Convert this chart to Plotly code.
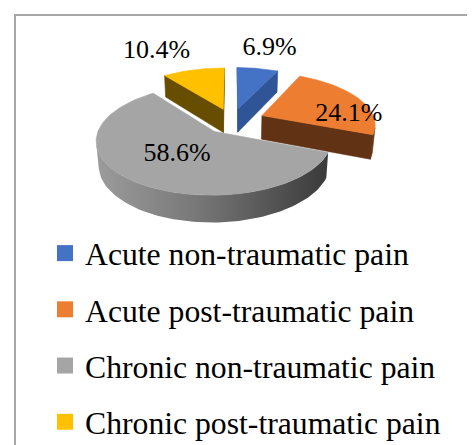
import numpy as np
import plotly.graph_objects as go

# ---------------- data ----------------
categories = ["Acute non-traumatic pain", "Acute post-traumatic pain",
              "Chronic non-traumatic pain", "Chronic post-traumatic pain"]
values = [6.9, 24.1, 58.6, 10.4]
value_labels = ["6.9%", "24.1%", "58.6%", "10.4%"]

# ---------------- style ----------------
top_colors = ["#4472C4", "#ED7D31", "#A5A5A5", "#FFC000"]
face_colors = ["#2F5597", "#613214", "#7A7A7A", "#664D00"]
explode = [0.25, 0.29, 0.25, 0.25]
label_r = [1.48, 0.95, 0.45, 1.48]
label_dx = [4, -5, -3, -25]
label_dy = [-4, 15, 3, -3]
SERIF = "Liberation Serif, Times New Roman, DejaVu Serif, serif"

W, H_PX = 475, 445
CX, CY, S = 224.0, 113.0, 113.0        # screen position / scale of pie
SA = 0.45                              # sin(elevation)
CA = np.sqrt(1 - SA ** 2)
DIST = 6.0                             # perspective distance
THICK = 0.24                           # pie thickness
CAMZ = -DIST * CA


def proj(X, Z, h):
    X = np.asarray(X, float)
    Z = np.asarray(Z, float)
    yv = h * CA + Z * SA
    zv = Z * CA - h * SA
    w = 1 + zv / DIST
    return CX + S * X / w, CY - S * yv / w


fig = go.Figure()

total = sum(values)
bounds = np.concatenate([[0], np.cumsum(values) / total * 360.0])
slices = []
for i in range(len(values)):
    t0, t1 = bounds[i], bounds[i + 1]
    mid = np.radians((t0 + t1) / 2)
    ex, ez = explode[i] * np.sin(mid), explode[i] * np.cos(mid)
    slices.append((i, t0, t1, mid, ex, ez))

# draw back to front
slices.sort(key=lambda s: -(s[5] * CA))


def poly(xs, ys, color, grad=None):
    kw = dict(x=list(xs) + [xs[0]], y=list(ys) + [ys[0]], mode="lines",
              fill="toself", line=dict(width=0.6, color=color),
              hoverinfo="skip", showlegend=False)
    if grad is not None:
        kw["fillgradient"] = grad
        kw["line"] = dict(width=0)
    else:
        kw["fillcolor"] = color
    fig.add_trace(go.Scatter(**kw))


for (i, t0, t1, mid, ex, ez) in slices:
    th = np.radians(np.linspace(t0, t1, 120))
    # radial faces
    for ang, n in ((np.radians(t0), (-np.cos(np.radians(t0)), np.sin(np.radians(t0)))),
                   (np.radians(t1), (np.cos(np.radians(t1)), -np.sin(np.radians(t1))))):
        if n[0] * (0 - ex) + n[1] * (CAMZ - ez) > 0:
            Xs = [ex, ex + np.sin(ang), ex + np.sin(ang), ex]
            Zs = [ez, ez + np.cos(ang), ez + np.cos(ang), ez]
            hs = [0, 0, -THICK, -THICK]
            pts = [proj(x, z, h) for x, z, h in zip(Xs, Zs, hs)]
            poly([float(p[0]) for p in pts], [float(p[1]) for p in pts], face_colors[i])
    # outer side
    px, pz = ex + np.sin(th), ez + np.cos(th)
    vis = np.sin(th) * (0 - px) + np.cos(th) * (CAMZ - pz) > 0
    if vis.sum() > 1:
        tv = th[vis]
        xa, za = ex + np.sin(tv), ez + np.cos(tv)
        xt, yt = proj(xa, za, 0)
        xb, yb = proj(xa, za, -THICK)
        xs = np.concatenate([xt, xb[::-1]])
        ys = np.concatenate([yt, yb[::-1]])
        if i == 2:
            poly(xs, ys, face_colors[i],
                 grad=dict(type="horizontal",
                           colorscale=[[0, "#9C9C9C"], [0.45, "#767676"], [1, "#3A3A3A"]]))
        else:
            poly(xs, ys, face_colors[i])
    # top face
    xt, yt = proj(ex + np.sin(th), ez + np.cos(th), 0)
    cxp, cyp = proj(ex, ez, 0)
    poly(np.concatenate([[cxp], xt]), np.concatenate([[cyp], yt]), top_colors[i])

# value labels
lx, ly = [], []
for (i, t0, t1, mid, ex, ez) in sorted(slices):
    X = ex + label_r[i] * np.sin(mid)
    Z = ez + label_r[i] * np.cos(mid)
    x, y = proj(X, Z, 0)
    lx.append(float(x) + label_dx[i])
    ly.append(float(y) + label_dy[i])
fig.add_trace(go.Scatter(x=lx, y=ly, mode="text", text=value_labels,
                         textfont=dict(family=SERIF, size=26, color="black"),
                         hoverinfo="skip", showlegend=False))

# legend entries
for i, cat in enumerate(categories):
    fig.add_trace(go.Scatter(x=[None], y=[None], mode="markers", name=cat,
                             legendgroup=str(i),
                             marker=dict(symbol="square", size=16, color=top_colors[i])))

fig.add_shape(type="rect", xref="x", yref="y", x0=7, y0=7, x1=W + 10, y1=H_PX + 10,
              line=dict(color="#A6A6A6", width=2), layer="above")

fig.update_layout(
    width=W, height=H_PX, autosize=False,
    margin=dict(l=0, r=0, t=0, b=0),
    paper_bgcolor="white", plot_bgcolor="white",
    xaxis=dict(range=[0, W], visible=False, fixedrange=True),
    yaxis=dict(range=[H_PX, 0], visible=False, fixedrange=True),
    showlegend=True,
    legend=dict(x=37 / W, y=1 - 218 / H_PX, xanchor="left", yanchor="top",
                font=dict(family=SERIF, size=31.7, color="black"),
                bgcolor="rgba(0,0,0,0)", tracegroupgap=12, itemsizing="trace"),
)

fig.write_html("out.html")
